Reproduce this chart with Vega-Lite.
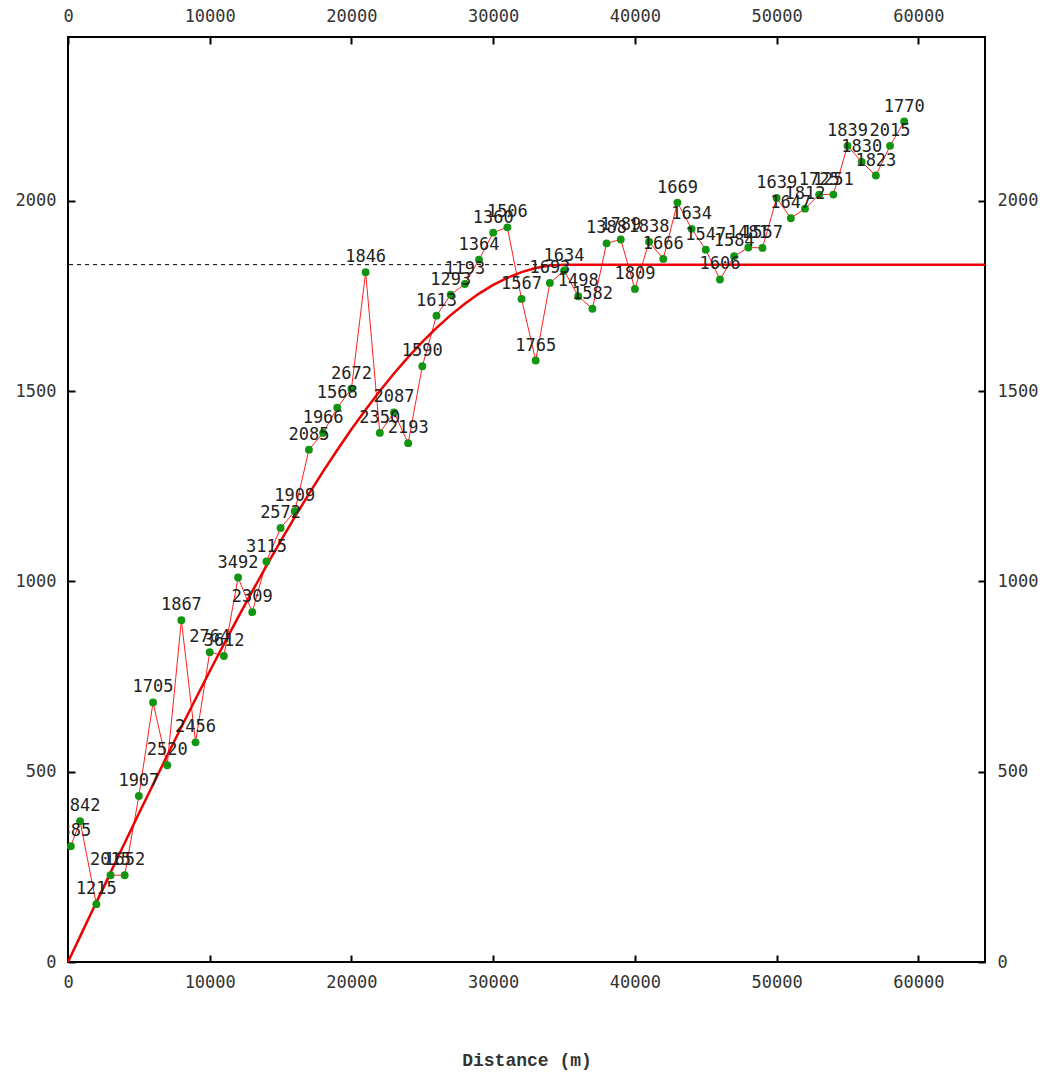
{
  "$schema": "https://vega.github.io/schema/vega-lite/v6.json",
  "width": 917,
  "height": 925,
  "autosize": "none",
  "padding": {"left": 68, "top": 37, "right": 70, "bottom": 115},
  "background": "white",
  "config": {
    "view": {"stroke": "black", "strokeWidth": 2},
    "axis": {
      "domain": false,
      "grid": false,
      "tickSize": -7,
      "tickWidth": 2,
      "tickColor": "black",
      "labelFont": "DejaVu Sans Mono",
      "labelFontSize": 17,
      "labelColor": "#333333",
      "labelPadding": 19,
      "labelFlush": false,
      "labelOverlap": false
    }
  },
  "datasets": {
    "emp": [
      {"d": 200, "g": 304, "n": "1385"},
      {"d": 850, "g": 370, "n": "1842"},
      {"d": 2000, "g": 152, "n": "1215"},
      {"d": 3000, "g": 228, "n": "2015"},
      {"d": 4000, "g": 228, "n": "1652"},
      {"d": 5000, "g": 436, "n": "1907"},
      {"d": 6000, "g": 682, "n": "1705"},
      {"d": 7000, "g": 517, "n": "2520"},
      {"d": 8000, "g": 898, "n": "1867"},
      {"d": 9000, "g": 577, "n": "2456"},
      {"d": 10000, "g": 814, "n": "2764"},
      {"d": 11000, "g": 804, "n": "3612"},
      {"d": 12000, "g": 1010, "n": "3492"},
      {"d": 13000, "g": 919, "n": "2309"},
      {"d": 14000, "g": 1052, "n": "3115"},
      {"d": 15000, "g": 1140, "n": "2572"},
      {"d": 16000, "g": 1184, "n": "1909"},
      {"d": 17000, "g": 1346, "n": "2085"},
      {"d": 18000, "g": 1390, "n": "1966"},
      {"d": 19000, "g": 1456, "n": "1568"},
      {"d": 20000, "g": 1506, "n": "2672"},
      {"d": 21000, "g": 1812, "n": "1846"},
      {"d": 22000, "g": 1390, "n": "2350"},
      {"d": 23000, "g": 1444, "n": "2087"},
      {"d": 24000, "g": 1363, "n": "2193"},
      {"d": 25000, "g": 1565, "n": "1590"},
      {"d": 26000, "g": 1698, "n": "1613"},
      {"d": 27000, "g": 1753, "n": "1293"},
      {"d": 28000, "g": 1781, "n": "1193"},
      {"d": 29000, "g": 1845, "n": "1364"},
      {"d": 30000, "g": 1916, "n": "1360"},
      {"d": 31000, "g": 1930, "n": "1506"},
      {"d": 32000, "g": 1742, "n": "1567"},
      {"d": 33000, "g": 1580, "n": "1765"},
      {"d": 34000, "g": 1784, "n": "1693"},
      {"d": 35000, "g": 1816, "n": "1634"},
      {"d": 36000, "g": 1749, "n": "1498"},
      {"d": 37000, "g": 1716, "n": "1582"},
      {"d": 38000, "g": 1888, "n": "1388"},
      {"d": 39000, "g": 1898, "n": "1789"},
      {"d": 40000, "g": 1768, "n": "1809"},
      {"d": 41000, "g": 1892, "n": "1838"},
      {"d": 42000, "g": 1847, "n": "1666"},
      {"d": 43000, "g": 1995, "n": "1669"},
      {"d": 44000, "g": 1926, "n": "1634"},
      {"d": 45000, "g": 1871, "n": "1547"},
      {"d": 46000, "g": 1793, "n": "1606"},
      {"d": 47000, "g": 1854, "n": "1584"},
      {"d": 48000, "g": 1877, "n": "1481"},
      {"d": 49000, "g": 1876, "n": "1557"},
      {"d": 50000, "g": 2007, "n": "1639"},
      {"d": 51000, "g": 1954, "n": "1647"},
      {"d": 52000, "g": 1979, "n": "1812"},
      {"d": 53000, "g": 2016, "n": "1725"},
      {"d": 54000, "g": 2016, "n": "1251"},
      {"d": 55000, "g": 2144, "n": "1839"},
      {"d": 56000, "g": 2102, "n": "1830"},
      {"d": 57000, "g": 2066, "n": "1823"},
      {"d": 58000, "g": 2144, "n": "2015"},
      {"d": 59000, "g": 2208, "n": "1770"}
    ],
    "model": [
      {"d": 0, "g": 0},
      {"d": 1000, "g": 78.5},
      {"d": 2000, "g": 156.9},
      {"d": 3000, "g": 235.0},
      {"d": 4000, "g": 312.7},
      {"d": 5000, "g": 389.9},
      {"d": 6000, "g": 466.5},
      {"d": 7000, "g": 542.3},
      {"d": 8000, "g": 617.2},
      {"d": 9000, "g": 691.0},
      {"d": 10000, "g": 763.8},
      {"d": 11000, "g": 835.2},
      {"d": 12000, "g": 905.3},
      {"d": 13000, "g": 973.7},
      {"d": 14000, "g": 1040.6},
      {"d": 15000, "g": 1105.6},
      {"d": 16000, "g": 1168.7},
      {"d": 17000, "g": 1229.8},
      {"d": 18000, "g": 1288.7},
      {"d": 19000, "g": 1345.2},
      {"d": 20000, "g": 1399.4},
      {"d": 21000, "g": 1450.9},
      {"d": 22000, "g": 1499.8},
      {"d": 23000, "g": 1545.9},
      {"d": 24000, "g": 1589.0},
      {"d": 25000, "g": 1629.0},
      {"d": 26000, "g": 1665.9},
      {"d": 27000, "g": 1699.4},
      {"d": 28000, "g": 1729.4},
      {"d": 29000, "g": 1755.9},
      {"d": 30000, "g": 1778.6},
      {"d": 31000, "g": 1797.5},
      {"d": 32000, "g": 1812.4},
      {"d": 33000, "g": 1823.2},
      {"d": 34000, "g": 1829.8},
      {"d": 35000, "g": 1832},
      {"d": 64700, "g": 1832}
    ],
    "sill": [{"g": 1832}]
  },
  "layer": [
    {
      "data": {"name": "sill"},
      "mark": {"type": "rule", "color": "black", "strokeWidth": 1, "strokeDash": [4, 4]},
      "encoding": {
        "y": {"field": "g", "type": "quantitative", "scale": {"domain": [0, 2430], "nice": false}, "axis": null}
      }
    },
    {
      "data": {"name": "emp"},
      "mark": {"type": "line", "color": "#ff2020", "strokeWidth": 1},
      "encoding": {
        "x": {"field": "d", "type": "quantitative", "axis": null},
        "y": {"field": "g", "type": "quantitative", "axis": null}
      }
    },
    {
      "data": {"name": "model"},
      "mark": {"type": "line", "color": "#ee0000", "strokeWidth": 2.5},
      "encoding": {
        "x": {"field": "d", "type": "quantitative", "scale": {"domain": [0, 64700], "nice": false},
          "axis": {"orient": "top", "values": [0, 10000, 20000, 30000, 40000, 50000, 60000], "format": "d", "title": null}},
        "y": {"field": "g", "type": "quantitative",
          "axis": {"orient": "right", "values": [0, 500, 1000, 1500, 2000], "format": "d", "title": null}}
      }
    },
    {
      "data": {"name": "emp"},
      "mark": {"type": "circle", "color": "#129612", "opacity": 1, "size": 62},
      "encoding": {
        "x": {"field": "d", "type": "quantitative",
          "axis": {"orient": "bottom", "values": [0, 10000, 20000, 30000, 40000, 50000, 60000], "format": "d",
            "title": "Distance (m)", "titleFont": "Liberation Mono", "titleFontSize": 18, "titleFontWeight": "bold", "titleColor": "#333333", "titlePadding": 61}},
        "y": {"field": "g", "type": "quantitative",
          "axis": {"orient": "left", "values": [0, 500, 1000, 1500, 2000], "format": "d", "title": null}}
      }
    },
    {
      "data": {"name": "emp"},
      "mark": {"type": "text", "dy": -15, "font": "DejaVu Sans Mono", "fontSize": 17, "color": "#222222", "clip": true},
      "encoding": {
        "x": {"field": "d", "type": "quantitative", "axis": null},
        "y": {"field": "g", "type": "quantitative", "axis": null},
        "text": {"field": "n"}
      }
    }
  ],
  "resolve": {"axis": {"x": "independent", "y": "independent"}}
}
